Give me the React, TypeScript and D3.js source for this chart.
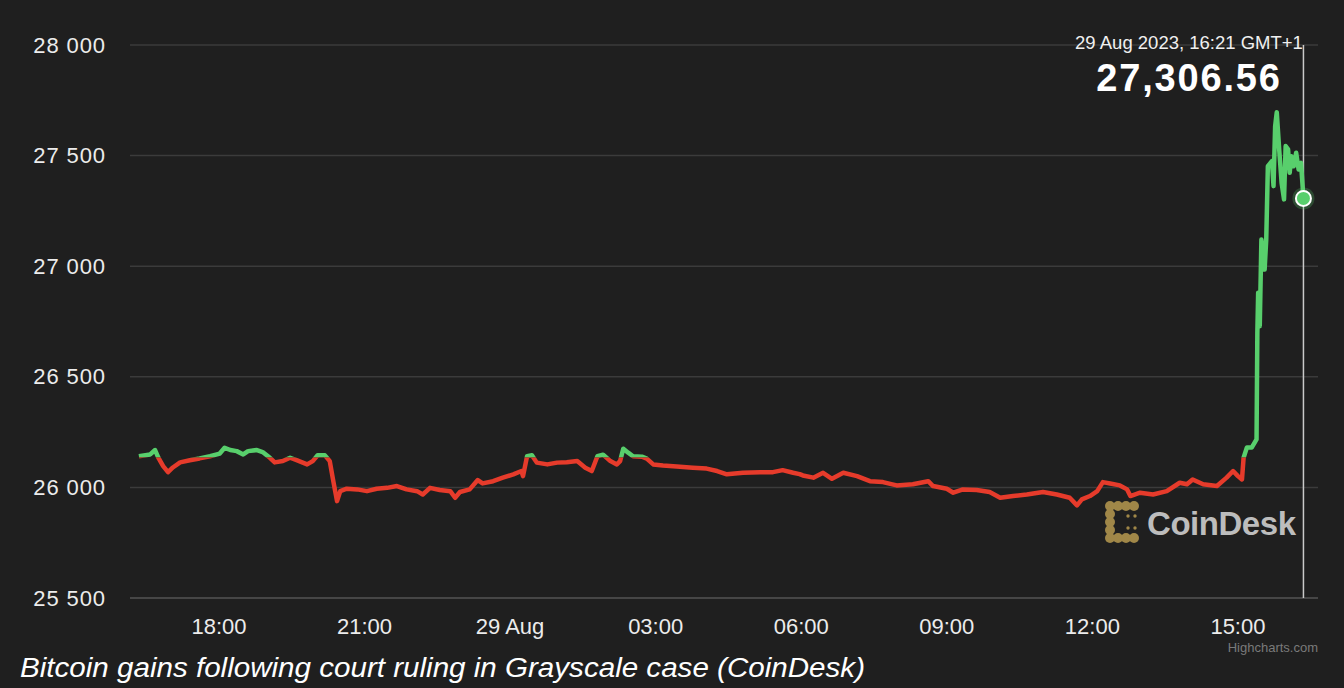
import * as d3 from "d3";

// BTC price, 28 Aug 2023 16:21 -> 29 Aug 2023 16:21 (GMT+1)
const times = [
  "16:21", "16:35", "16:41", "16:45", "16:51", "16:57", "17:03", "17:12", "17:24", "17:36",
  "17:49", "18:01", "18:07", "18:14", "18:22", "18:30", "18:36", "18:47", "18:54", "19:03",
  "19:09", "19:19", "19:28", "19:36", "19:49", "19:56", "20:02", "20:11", "20:17", "20:21",
  "20:26", "20:30", "20:38", "20:51", "21:03", "21:15", "21:28", "21:40", "21:52", "22:05",
  "22:12", "22:21", "22:33", "22:46", "22:52", "22:58", "23:10", "23:20", "23:26", "23:39",
  "23:51", "00:04", "00:14", "00:16", "00:21", "00:27", "00:33", "00:46", "00:58", "01:10",
  "01:23", "01:33", "01:41", "01:48", "01:55", "02:04", "02:12", "02:16", "02:20", "02:26",
  "02:32", "02:43", "02:49", "02:57", "03:09", "03:26", "03:46", "04:03", "04:16", "04:28",
  "04:48", "05:09", "05:25", "05:37", "05:50", "05:58", "06:02", "06:15", "06:27", "06:38",
  "06:52", "07:09", "07:25", "07:41", "07:58", "08:18", "08:37", "08:43", "09:00", "09:08",
  "09:20", "09:37", "09:53", "10:06", "10:22", "10:39", "10:59", "11:16", "11:32", "11:41",
  "11:47", "11:57", "12:06", "12:13", "12:22", "12:34", "12:43", "12:47", "12:59", "13:15",
  "13:32", "13:48", "13:57", "14:04", "14:17", "14:34", "14:46", "14:54", "15:00", "15:05",
  "15:07", "15:11", "15:17", "15:23", "15:24", "15:25", "15:27", "15:29", "15:33", "15:35",
  "15:37", "15:42", "15:44", "15:46", "15:48", "15:51", "15:54", "15:57", "15:59", "16:02",
  "16:04", "16:06", "16:09", "16:12", "16:15", "16:18", "16:21",
];

const prices = [
  26141, 26149, 26169, 26135, 26096, 26069, 26090, 26113, 26123, 26131,
  26141, 26153, 26179, 26169, 26164, 26149, 26164, 26169, 26160, 26134,
  26113, 26119, 26134, 26123, 26104, 26119, 26145, 26145, 26119, 26036,
  25938, 25983, 25994, 25991, 25983, 25994, 25998, 26006, 25991, 25983,
  25968, 25998, 25988, 25983, 25953, 25979, 25991, 26033, 26018, 26028,
  26044, 26059, 26074, 26051, 26141, 26145, 26112, 26104, 26112, 26114,
  26119, 26089, 26074, 26141, 26148, 26119, 26104, 26119, 26175, 26157,
  26141, 26139, 26130, 26104, 26099, 26094, 26089, 26085, 26074, 26059,
  26066, 26069, 26069, 26078, 26066, 26060, 26054, 26044, 26066, 26039,
  26066, 26051, 26028, 26024, 26009, 26014, 26028, 26006, 25994, 25976,
  25991, 25988, 25979, 25953, 25961, 25968, 25979, 25968, 25953, 25919,
  25946, 25961, 25983, 26024, 26018, 26009, 25991, 25961, 25976, 25968,
  25983, 26021, 26014, 26036, 26014, 26006, 26044, 26074, 26051, 26036,
  26134, 26180, 26180, 26217, 26699, 26880, 26729, 27121, 26985, 27121,
  27452, 27475, 27362, 27633, 27696, 27528, 27377, 27302, 27543, 27528,
  27422, 27497, 27452, 27513, 27437, 27467, 27306.56,
];

const threshold = 26135; // previous close: green above, red below
const yTicks = [25500, 26000, 26500, 27000, 27500, 28000];
const caption = "Bitcoin gains following court ruling in Grayscale case (CoinDesk)";

// parse HH:MM with day rollover
const startDay = Date.UTC(2023, 7, 28);
const data: { t: Date; v: number }[] = [];
{
  let day = 0;
  let prev = -1;
  times.forEach((s, i) => {
    const [h, m] = s.split(":").map(Number);
    const mins = h * 60 + m;
    if (mins < prev) day += 1;
    prev = mins;
    data.push({ t: new Date(startDay + day * 86400000 + mins * 60000), v: prices[i] });
  });
}

const W = 1344;
const H = 688;
const left = 130;
const right = 1318;
const top = 45;
const bottom = 598;

const font = "'Liberation Sans', Arial, Helvetica, sans-serif";
const GREEN = "#58cf6c";
const RED = "#e63b2b";
const GOLD = "#a08748";

// bead positions of the logo bracket (logo-local units)
const beads = [
  [30, 6], [22, 6], [14, 6], [6, 6],
  [6, 14], [6, 22], [6, 30],
  [6, 38], [14, 38], [22, 38], [30, 38],
];

export default function App() {
  const x = d3
    .scaleUtc()
    .domain([new Date(Date.UTC(2023, 7, 28, 16, 10)), new Date(Date.UTC(2023, 7, 29, 16, 39))])
    .range([left, right]);
  const y = d3.scaleLinear().domain([25500, 28000]).range([bottom, top]);

  const line = d3
    .line<{ t: Date; v: number }>()
    .x(d => x(d.t))
    .y(d => y(d.v));
  const path = line(data) ?? "";

  const spaceFmt = d3.formatLocale({ decimal: ".", thousands: " ", grouping: [3], currency: ["", ""] }).format(",");
  const xTicks = x.ticks(d3.utcHour.every(3) as d3.TimeInterval).filter(t => x(t) > left + 40);
  const xFmt = (t: Date) => (t.getUTCHours() === 0 ? d3.utcFormat("%-d %b")(t) : d3.utcFormat("%H:%M")(t));

  const last = data[data.length - 1];
  const lx = x(last.t);
  const ly = y(last.v);
  const ty = y(threshold);

  return (
    <div style={{ position: "absolute", left: 0, top: 0 }}>
      <svg width={W} height={H} style={{ display: "block", background: "#1f1f1f" }}>
        <defs>
          <clipPath id="above">
            <rect x={0} y={0} width={W} height={ty} />
          </clipPath>
          <clipPath id="below">
            <rect x={0} y={ty} width={W} height={H - ty} />
          </clipPath>
        </defs>

        {yTicks.map(v => (
          <g key={v}>
            <line
              x1={left}
              x2={right}
              y1={y(v)}
              y2={y(v)}
              stroke={v === 25500 ? "#555" : "#3b3b3b"}
              strokeWidth={1.5}
            />
            <text
              x={106}
              y={y(v)}
              textAnchor="end"
              dominantBaseline="central"
              fill="#ececec"
              fontFamily={font}
              fontSize={22}
              letterSpacing={0.9}
            >
              {spaceFmt(v)}
            </text>
          </g>
        ))}

        {xTicks.map(t => (
          <text
            key={+t}
            x={x(t)}
            y={626}
            textAnchor="middle"
            dominantBaseline="central"
            fill="#ececec"
            fontFamily={font}
            fontSize={22}
          >
            {xFmt(t)}
          </text>
        ))}

        {/* CoinDesk watermark */}
        <g transform="translate(1104,500)">
          {beads.map(([bx, by], i) => (
            <circle key={i} cx={bx} cy={by} r={5} fill={GOLD} />
          ))}
          <path d="M6,6 H30 M6,6 V38 H30" fill="none" stroke={GOLD} strokeWidth={6} />
          <circle cx={24} cy={16} r={1.7} fill={GOLD} />
          <circle cx={24} cy={28} r={1.7} fill={GOLD} />
          <circle cx={31} cy={16} r={1.7} fill={GOLD} />
          <circle cx={31} cy={28} r={1.7} fill={GOLD} />
          <text
            x={43}
            y={23}
            dominantBaseline="central"
            fill="#bdbdbd"
            fontFamily={font}
            fontWeight="bold"
            fontSize={33}
            textLength={149}
          >
            CoinDesk
          </text>
        </g>

        {/* crosshair */}
        <line x1={lx} x2={lx} y1={top} y2={bottom} stroke="#c9c9c9" strokeWidth={1.5} />

        <path d={path} fill="none" stroke={GREEN} strokeWidth={4.5} strokeLinejoin="round" clipPath="url(#above)" />
        <path d={path} fill="none" stroke={RED} strokeWidth={4.5} strokeLinejoin="round" clipPath="url(#below)" />

        <circle cx={lx} cy={ly} r={11} fill={GREEN} opacity={0.25} />
        <circle cx={lx} cy={ly} r={7.5} fill={GREEN} stroke="#ffffff" strokeWidth={2} />

        {/* tooltip */}
        <text
          x={1189}
          y={42}
          textAnchor="middle"
          dominantBaseline="central"
          fill="#f0f0f0"
          fontFamily={font}
          fontSize={18.5}
        >
          {d3.utcFormat("%-d %b %Y, %H:%M")(last.t)} GMT+1
        </text>
        <text
          x={1189}
          y={78}
          textAnchor="middle"
          dominantBaseline="central"
          fill="#ffffff"
          fontFamily={font}
          fontWeight="bold"
          fontSize={38}
          letterSpacing={1.8}
        >
          {d3.format(",.2f")(last.v)}
        </text>

        <text x={1318} y={647} textAnchor="end" dominantBaseline="central" fill="#7a7a7a" fontFamily={font} fontSize={13}>
          Highcharts.com
        </text>

        <text
          x={20}
          y={668}
          dominantBaseline="central"
          fill="#ffffff"
          fontFamily={font}
          fontStyle="italic"
          fontSize={27}
          textLength={845}
          lengthAdjust="spacingAndGlyphs"
        >
          {caption}
        </text>
      </svg>
    </div>
  );
}
